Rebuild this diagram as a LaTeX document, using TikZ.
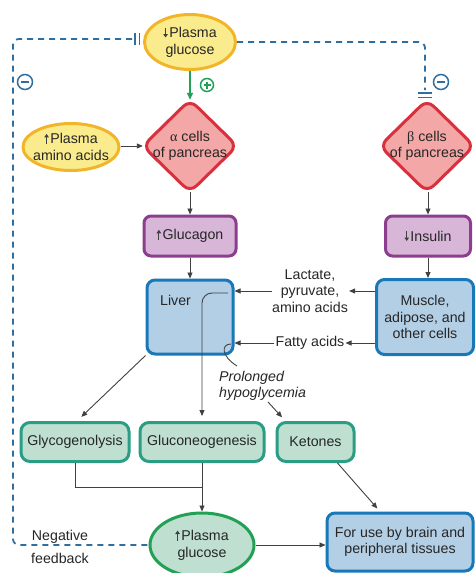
\documentclass[tikz,border=0pt]{standalone}
\usepackage{fontspec}
\setmainfont{Liberation Sans}
\newfontfamily\grkfont{Liberation Serif}
\usetikzlibrary{shapes.geometric,arrows.meta,calc}
\definecolor{yelF}{HTML}{FAEC8C}
\definecolor{yelB}{HTML}{F2B52A}
\definecolor{pinkF}{HTML}{F3A7A6}
\definecolor{redB}{HTML}{D9303E}
\definecolor{purF}{HTML}{D8B6D8}
\definecolor{purB}{HTML}{8C3D8E}
\definecolor{bluF}{HTML}{B3CFE5}
\definecolor{bluB}{HTML}{1878B8}
\definecolor{grnF}{HTML}{BFE0D0}
\definecolor{grnB}{HTML}{2A9D84}
\definecolor{grnE}{HTML}{22A055}
\definecolor{dashc}{HTML}{2F6E9F}
\definecolor{lnc}{HTML}{404040}
\newcommand{\uparr}{\tikz[baseline=0pt]\draw[lnc,line width=0.9pt,-{Triangle[length=3.5pt,width=4.5pt]}] (0pt,0pt) -- (0pt,10pt);\kern1.5pt}
\newcommand{\dnarr}{\tikz[baseline=0pt]\draw[lnc,line width=0.9pt,-{Triangle[length=3.5pt,width=4.5pt]}] (0pt,10pt) -- (0pt,0pt);\kern1.5pt}
\tikzset{
  txt/.style={font=\fontsize{14.2}{16.5}\selectfont, align=center, text=black!85, inner sep=3pt},
  yell/.style={ellipse, draw=yelB, fill=yelF, line width=3pt, inner sep=0pt},
  purbox/.style={rectangle, draw=purB, fill=purF, line width=3pt, rounded corners=7pt, inner sep=0pt},
  blubox/.style={rectangle, draw=bluB, fill=bluF, line width=3pt, rounded corners=8pt, inner sep=0pt},
  grnbox/.style={rectangle, draw=grnB, fill=grnF, line width=3pt, rounded corners=9pt, inner sep=0pt},
  diam/.style={draw=redB, fill=pinkF, line width=3pt, rounded corners=9pt},
  arr/.style={draw=lnc, line width=0.9pt, -{Triangle[length=6pt,width=5pt]}},
  plain/.style={draw=lnc, line width=0.9pt},
  fb/.style={draw=dashc, line width=1.8pt, dash pattern=on 6pt off 5pt, rounded corners=6pt},
  barmark/.style={draw=dashc, line width=1.5pt},
  sgn/.style={circle, line width=1.5pt, minimum size=15pt, inner sep=0pt},
}
\begin{document}
\begin{tikzpicture}[x=1pt,y=-1pt]
\useasboundingbox (0,0) rectangle (475,573);

% feedback dashed lines
\coordinate (barL) at (132,39);
\coordinate (barR) at (425,90);
\node[yell, minimum width=91pt, minimum height=55pt] (topglu) at (190,42) {};
\node[ellipse, draw=grnE, fill=grnF, line width=3pt, minimum width=104pt, minimum height=64pt, inner sep=0pt] (botglu) at (202,545) {};
\draw[fb] (barL) -- ++(-119,0) |- (botglu.west);
\draw[fb] (topglu.east) -| (barR);
\draw[barmark] (135,33) -- (135,45) (139.5,33) -- (139.5,45);
\draw[barmark] (418,93) -- (432,93) (418,97.5) -- (432,97.5);
\node[txt] at (topglu) {\dnarr Plasma\\glucose};
\node[txt] at (botglu) {\uparr Plasma\\glucose};

% minus signs
\node[sgn, draw=dashc] (mL) at (25,82) {};
\draw[dashc, line width=1.5pt] ($(mL)+(-4,0)$) -- ($(mL)+(4,0)$);
\node[sgn, draw=dashc] (mR) at (441,82) {};
\draw[dashc, line width=1.5pt] ($(mR)+(-4,0)$) -- ($(mR)+(4,0)$);

% diamonds
\node[minimum width=94pt, minimum height=92pt, inner sep=0pt] (alpha) at (190,146) {};
\draw[diam] ($(alpha.north)!0.5!(alpha.east)$) -- (alpha.east) -- (alpha.south) -- (alpha.west) -- (alpha.north) -- cycle;
\node[txt] at (alpha) {{\grkfont α} cells\\of pancreas};
\node[minimum width=94pt, minimum height=92pt, inner sep=0pt] (beta) at (427,146) {};
\draw[diam] ($(beta.north)!0.5!(beta.east)$) -- (beta.east) -- (beta.south) -- (beta.west) -- (beta.north) -- cycle;
\node[txt] at (beta) {{\grkfont β} cells\\of pancreas};

% green activating arrow
\draw[grnE, line width=1.8pt, -{Triangle[length=7pt,width=6pt]}] (topglu.south) -- (alpha.north);
\node[sgn, draw=grnE, minimum size=13pt] (pl) at (207,85) {};
\draw[grnE, line width=1.5pt] ($(pl)+(-3.5,0)$) -- ($(pl)+(3.5,0)$) ($(pl)+(0,-3.5)$) -- ($(pl)+(0,3.5)$);

% amino acids
\node[yell, minimum width=96pt, minimum height=47pt] (amino) at (71,147) {};
\node[txt] at (amino) {\uparr Plasma\\amino acids};
\draw[arr] (amino.east |- alpha.west) -- (alpha.west);

% hormones
\node[purbox, minimum width=92pt, minimum height=40pt] (glucagon) at (190,236) {};
\node[txt] at (glucagon) {\uparr Glucagon};
\node[purbox, minimum width=85pt, minimum height=40pt] (insulin) at (428,236) {};
\node[txt] at (insulin) {\dnarr Insulin};
\draw[arr] (alpha.south) -- (glucagon.north);
\draw[arr] (beta.south -| insulin.north) -- (insulin.north);

% liver & muscle
\node[blubox, minimum width=86pt, minimum height=74pt] (liver) at (190,317) {};
\node[txt, anchor=west] at (157,300) {Liver};
\node[blubox, minimum width=97pt, minimum height=75pt] (muscle) at (425,317) {};
\node[txt] at (muscle) {Muscle,\\adipose, and\\other cells};
\draw[arr] (glucagon.south) -- (liver.north);
\draw[arr] (insulin.south) -- (insulin.south |- muscle.north);

\node[txt] (lact) at (310,291) {Lactate,\\pyruvate,\\amino acids};
\node[txt] (fatty) at (310,343) {Fatty acids};
\draw[arr] (lact.east -| muscle.west) -- ([xshift=-2pt]lact.east);
\draw[arr] ([xshift=3pt]lact.west) -- (lact.west -| liver.east);
\draw[arr] (fatty.east -| muscle.west) -- ([xshift=-2pt]fatty.east);
\draw[arr] ([xshift=2pt]fatty.west) -- (fatty.west -| liver.east);

% products
\node[grnbox, minimum width=108pt, minimum height=39pt] (glyco) at (75,442) {};
\node[txt] at (glyco) {Glycogenolysis};
\node[grnbox, minimum width=124pt, minimum height=39pt] (glucon) at (202,442) {};
\node[txt] at (glucon) {Gluconeogenesis};
\node[grnbox, minimum width=77pt, minimum height=39pt] (ket) at (315.5,442) {};
\node[txt] at (ket) {Ketones};

% liver internal paths
\coordinate (lv1) at (228,293);
\draw[arr, rounded corners=10pt, shorten >=5pt] (lv1) -| (glucon.north);
\coordinate (lv2) at (231,344);
\coordinate (hk) at (237,366);
\draw[plain] (lv2) .. controls (221,344) and (221,356) .. (hk);
\node[txt, font=\fontsize{14.2}{16.5}\selectfont\itshape, align=left, anchor=north west] (hypo) at (216,368) {Prolonged\\hypoglycemia};
\coordinate (hy) at (268,402);
\draw[arr, shorten >=5pt] (hy) -- ([xshift=-30pt]ket.north);
\draw[arr, shorten >=6pt] (liver.south west) -- ([xshift=2pt]glyco.north);

% merge to plasma glucose
\draw[plain] (glyco.south) -- ++(0,24) -| (glucon.south);
\draw[arr] (glucon.south) -- (botglu.north);

% for use
\node[blubox, minimum width=146pt, minimum height=58pt] (foruse) at (400,542) {};
\node[txt] at (foruse) {For use by brain and\\peripheral tissues};
\draw[arr] (botglu.east) -- (botglu.east -| foruse.west);
\draw[arr, shorten >=4pt] ([xshift=22pt]ket.south) -- ([xshift=-20pt]foruse.north);

% negative feedback label
\node[txt, inner sep=1pt] at (60,537) {Negative};
\node[txt, inner sep=1pt] at (60,558) {feedback};
\end{tikzpicture}
\end{document}
